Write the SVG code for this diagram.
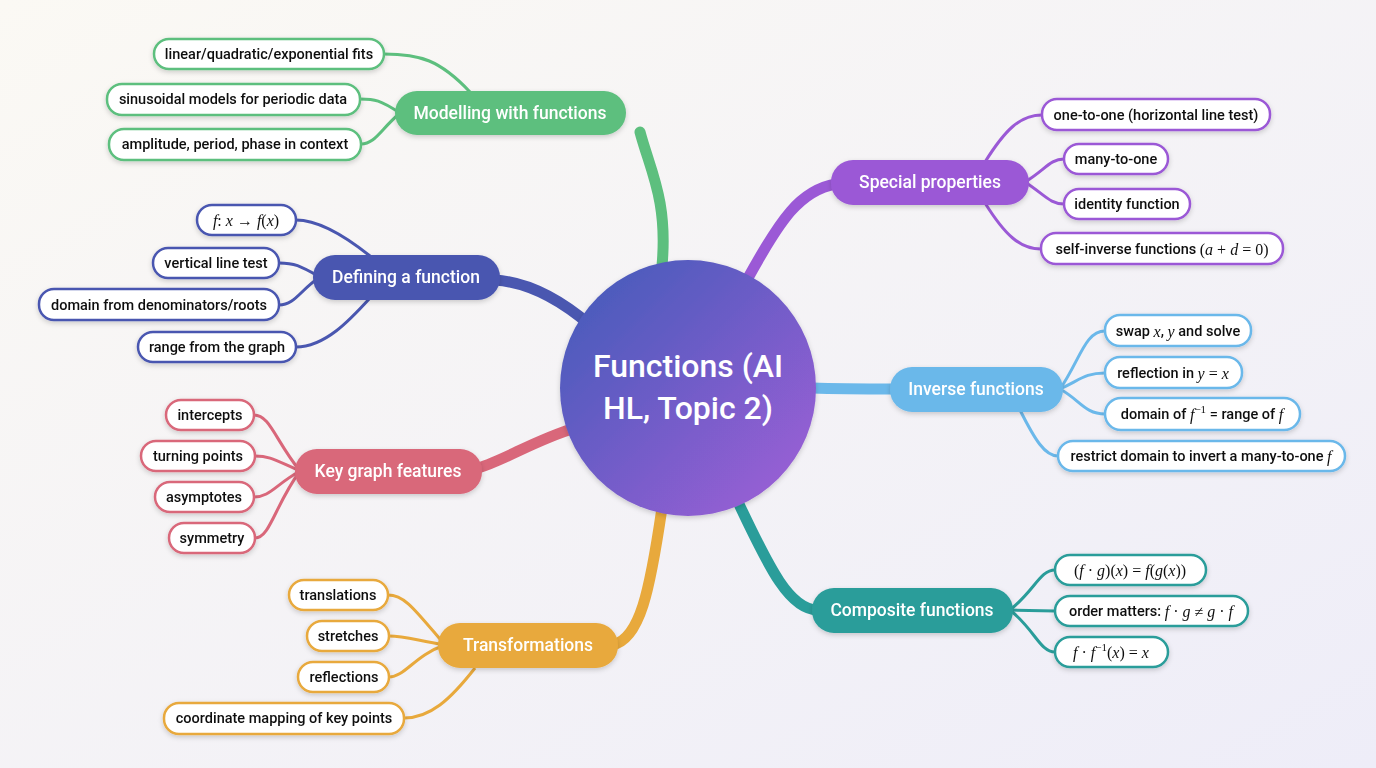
<svg xmlns="http://www.w3.org/2000/svg" width="1376" height="768" viewBox="0 0 1376 768">
<defs>
<linearGradient id="bg" x1="0" y1="0" x2="1" y2="1"><stop offset="0" stop-color="#fbf9f4"/><stop offset="1" stop-color="#eeedf8"/></linearGradient>
<linearGradient id="hub" x1="0" y1="0" x2="1" y2="1"><stop offset="0" stop-color="#3f5ab8"/><stop offset="1" stop-color="#a35fd8"/></linearGradient>
<filter id="sh" x="-20%" y="-30%" width="140%" height="160%"><feDropShadow dx="0" dy="2" stdDeviation="2.5" flood-color="#000" flood-opacity="0.18"/></filter>
</defs>
<style>
.lf{fill:#fff;stroke-width:2.5}
.lt{font-family:Roboto,"Liberation Sans",sans-serif;font-size:14.5px;font-weight:500;fill:#111;text-anchor:middle;dominant-baseline:central}
.nt{font-family:Roboto,"Liberation Sans",sans-serif;font-size:17.5px;font-weight:500;fill:#fff;text-anchor:middle;dominant-baseline:central}
.m{font-family:"Liberation Serif",serif;font-style:italic;font-size:16px;font-weight:400}
.r{font-family:"Liberation Serif",serif;font-size:16px;font-weight:400}
.c{fill:none;stroke-width:3}
.w{stroke-width:11;stroke-linecap:round}
.g{stroke:#5dbf7e}.i{stroke:#4a57b0}.d{stroke:#d9677a}.o{stroke:#e8a93c}.p{stroke:#9b59d6}.b{stroke:#6bb8ea}.t{stroke:#2a9d9a}
</style>
<rect width="1376" height="768" fill="url(#bg)"/>
<g id="connectors">
<path class="c w g" d="M662 266 C668 200 650 170 640 132"/>
<path class="c w i" d="M590 325 C555 295 525 282 495 280"/>
<path class="c w d" d="M575 428 C535 440 505 460 478 468"/>
<path class="c w o" d="M662 508 C650 590 640 640 612 645"/>
<path class="c w p" d="M748 278 C780 220 800 190 836 184"/>
<path class="c w b" d="M812 388 C840 389 860 389 895 389"/>
<path class="c w t" d="M738 502 C770 570 790 610 818 610"/>
<path class="c g" d="M470 92 C440 60 420 54 384 54"/>
<path class="c g" d="M400 113 C380 100 375 99 360 99"/>
<path class="c g" d="M400 113 C380 130 375 144 361 144"/>
<path class="c i" d="M370 256 C350 240 320 220 296 220"/>
<path class="c i" d="M320 277 C300 266 295 263 279 263"/>
<path class="c i" d="M320 277 C300 290 295 305 279 305"/>
<path class="c i" d="M370 298 C350 320 325 347 296 347"/>
<path class="c d" d="M300 471 C275 440 270 415 254 415"/>
<path class="c d" d="M300 471 C275 460 270 456 255 456"/>
<path class="c d" d="M300 471 C275 485 270 497 254 497"/>
<path class="c d" d="M300 471 C275 505 270 538 255 538"/>
<path class="c o" d="M445 645 C415 610 405 595 388 595"/>
<path class="c o" d="M445 645 C415 640 405 636 389 636"/>
<path class="c o" d="M445 645 C415 655 405 677 389 677"/>
<path class="c o" d="M475 668 C450 700 430 718 404 718"/>
<path class="c p" d="M985 162 C1005 130 1020 115 1042 115"/>
<path class="c p" d="M1025 182 C1045 170 1050 159 1064 159"/>
<path class="c p" d="M1025 182 C1045 195 1050 204 1064 204"/>
<path class="c p" d="M985 203 C1005 235 1020 249 1041 249"/>
<path class="c b" d="M1060 389 C1080 360 1085 331 1105 331"/>
<path class="c b" d="M1060 389 C1080 380 1085 373 1105 373"/>
<path class="c b" d="M1060 389 C1080 400 1085 414 1105 414"/>
<path class="c b" d="M1020 410 C1035 440 1045 456 1058 456"/>
<path class="c t" d="M1010 610 C1035 590 1040 570 1055 570"/>
<path class="c t" d="M1010 610 L1055 611"/>
<path class="c t" d="M1010 610 C1035 630 1040 652 1055 652"/>
</g>
<g id="hub-node"><circle cx="688" cy="388" r="128" fill="url(#hub)" filter="url(#sh)"/>
<text x="688" y="366" class="nt" style="font-size:32px;font-weight:500">Functions (AI</text>
<text x="688" y="408" class="nt" style="font-size:32px;font-weight:500">HL, Topic 2)</text></g>
<g id="n-model" filter="url(#sh)"><rect x="395" y="91" width="231" height="44" rx="22" fill="#5dbf7e"/><text x="510" y="113" class="nt">Modelling with functions</text></g>
<g id="n-special" filter="url(#sh)"><rect x="831" y="160" width="198" height="45" rx="22" fill="#9b59d6"/><text x="930" y="182" class="nt">Special properties</text></g>
<g id="n-define" filter="url(#sh)"><rect x="313" y="255" width="187" height="45" rx="22" fill="#4a57b0"/><text x="406" y="277" class="nt">Defining a function</text></g>
<g id="n-inverse" filter="url(#sh)"><rect x="890" y="367" width="173" height="45" rx="22" fill="#6bb8ea"/><text x="976" y="389" class="nt">Inverse functions</text></g>
<g id="n-key" filter="url(#sh)"><rect x="295" y="449" width="187" height="45" rx="22" fill="#d9677a"/><text x="388" y="471" class="nt">Key graph features</text></g>
<g id="n-comp" filter="url(#sh)"><rect x="812" y="588" width="201" height="45" rx="22" fill="#2a9d9a"/><text x="912" y="610" class="nt">Composite functions</text></g>
<g id="n-trans" filter="url(#sh)"><rect x="438" y="623" width="180" height="45" rx="22" fill="#e8a93c"/><text x="528" y="645" class="nt">Transformations</text></g>

<g id="l-g1" filter="url(#sh)"><rect class="lf g" x="154" y="39" width="230" height="30" rx="15"/><text x="269" y="54" class="lt">linear/quadratic/exponential fits</text></g>
<g id="l-g2" filter="url(#sh)"><rect class="lf g" x="107" y="84" width="253" height="31" rx="15"/><text x="233" y="99" class="lt">sinusoidal models for periodic data</text></g>
<g id="l-g3" filter="url(#sh)"><rect class="lf g" x="109" y="129" width="252" height="31" rx="15"/><text x="235" y="144" class="lt">amplitude, period, phase in context</text></g>

<g id="l-i1" filter="url(#sh)"><rect class="lf i" x="197" y="205" width="99" height="30" rx="15"/><text x="246" y="220" class="lt"><tspan class="m">f</tspan><tspan class="r">: </tspan><tspan class="m">x</tspan><tspan class="r"> → </tspan><tspan class="m">f</tspan><tspan class="r">(</tspan><tspan class="m">x</tspan><tspan class="r">)</tspan></text></g>
<g id="l-i2" filter="url(#sh)"><rect class="lf i" x="153" y="248" width="126" height="30" rx="15"/><text x="216" y="263" class="lt">vertical line test</text></g>
<g id="l-i3" filter="url(#sh)"><rect class="lf i" x="39" y="289" width="240" height="31" rx="15"/><text x="159" y="305" class="lt">domain from denominators/roots</text></g>
<g id="l-i4" filter="url(#sh)"><rect class="lf i" x="138" y="332" width="158" height="30" rx="15"/><text x="217" y="347" class="lt">range from the graph</text></g>

<g id="l-d1" filter="url(#sh)"><rect class="lf d" x="166" y="400" width="88" height="30" rx="15"/><text x="210" y="415" class="lt">intercepts</text></g>
<g id="l-d2" filter="url(#sh)"><rect class="lf d" x="141" y="441" width="114" height="30" rx="15"/><text x="198" y="456" class="lt">turning points</text></g>
<g id="l-d3" filter="url(#sh)"><rect class="lf d" x="155" y="482" width="99" height="30" rx="15"/><text x="204" y="497" class="lt">asymptotes</text></g>
<g id="l-d4" filter="url(#sh)"><rect class="lf d" x="169" y="523" width="86" height="30" rx="15"/><text x="212" y="538" class="lt">symmetry</text></g>

<g id="l-o1" filter="url(#sh)"><rect class="lf o" x="289" y="580" width="99" height="30" rx="15"/><text x="338" y="595" class="lt">translations</text></g>
<g id="l-o2" filter="url(#sh)"><rect class="lf o" x="307" y="621" width="82" height="30" rx="15"/><text x="348" y="636" class="lt">stretches</text></g>
<g id="l-o3" filter="url(#sh)"><rect class="lf o" x="298" y="662" width="91" height="30" rx="15"/><text x="344" y="677" class="lt">reflections</text></g>
<g id="l-o4" filter="url(#sh)"><rect class="lf o" x="164" y="703" width="240" height="31" rx="15"/><text x="284" y="718" class="lt">coordinate mapping of key points</text></g>

<g id="l-p1" filter="url(#sh)"><rect class="lf p" x="1042" y="99" width="228" height="31" rx="15"/><text x="1156" y="115" class="lt">one-to-one (horizontal line test)</text></g>
<g id="l-p2" filter="url(#sh)"><rect class="lf p" x="1064" y="144" width="104" height="30" rx="15"/><text x="1116" y="159" class="lt">many-to-one</text></g>
<g id="l-p3" filter="url(#sh)"><rect class="lf p" x="1064" y="189" width="126" height="30" rx="15"/><text x="1127" y="204" class="lt">identity function</text></g>
<g id="l-p4" filter="url(#sh)"><rect class="lf p" x="1041" y="233" width="242" height="31" rx="15"/><text x="1162" y="249" class="lt">self-inverse functions <tspan class="r">(</tspan><tspan class="m">a</tspan><tspan class="r"> + </tspan><tspan class="m">d</tspan><tspan class="r"> = 0)</tspan></text></g>

<g id="l-b1" filter="url(#sh)"><rect class="lf b" x="1105" y="315" width="146" height="31" rx="15"/><text x="1178" y="331" class="lt">swap <tspan class="m">x</tspan>, <tspan class="m">y</tspan> and solve</text></g>
<g id="l-b2" filter="url(#sh)"><rect class="lf b" x="1105" y="357" width="137" height="31" rx="15"/><text x="1173" y="373" class="lt">reflection in <tspan class="m">y</tspan><tspan class="r"> = </tspan><tspan class="m">x</tspan></text></g>
<g id="l-b3" filter="url(#sh)"><rect class="lf b" x="1105" y="398" width="195" height="32" rx="16"/><text x="1202" y="414" class="lt">domain of <tspan class="m">f</tspan><tspan class="r" style="font-size:11px" dy="-5">−1</tspan><tspan dy="5"> = range of </tspan><tspan class="m">f</tspan></text></g>
<g id="l-b4" filter="url(#sh)"><rect class="lf b" x="1058" y="441" width="287" height="30" rx="15"/><text x="1201" y="456" class="lt">restrict domain to invert a many-to-one <tspan class="m">f</tspan></text></g>

<g id="l-t1" filter="url(#sh)"><rect class="lf t" x="1055" y="555" width="151" height="30" rx="15"/><text x="1130" y="570" class="lt"><tspan class="r">(</tspan><tspan class="m">f</tspan><tspan class="r"> · </tspan><tspan class="m">g</tspan><tspan class="r">)(</tspan><tspan class="m">x</tspan><tspan class="r">) = </tspan><tspan class="m">f</tspan><tspan class="r">(</tspan><tspan class="m">g</tspan><tspan class="r">(</tspan><tspan class="m">x</tspan><tspan class="r">))</tspan></text></g>
<g id="l-t2" filter="url(#sh)"><rect class="lf t" x="1055" y="596" width="193" height="30" rx="15"/><text x="1151" y="611" class="lt">order matters: <tspan class="m">f</tspan><tspan class="r"> · </tspan><tspan class="m">g</tspan><tspan class="r"> ≠ </tspan><tspan class="m">g</tspan><tspan class="r"> · </tspan><tspan class="m">f</tspan></text></g>
<g id="l-t3" filter="url(#sh)"><rect class="lf t" x="1055" y="637" width="113" height="30" rx="15"/><text x="1111" y="652" class="lt"><tspan class="m">f</tspan><tspan class="r"> · </tspan><tspan class="m">f</tspan><tspan class="r" style="font-size:11px" dy="-5">−1</tspan><tspan class="r" dy="5">(</tspan><tspan class="m">x</tspan><tspan class="r">) = </tspan><tspan class="m">x</tspan></text></g>
</svg>
